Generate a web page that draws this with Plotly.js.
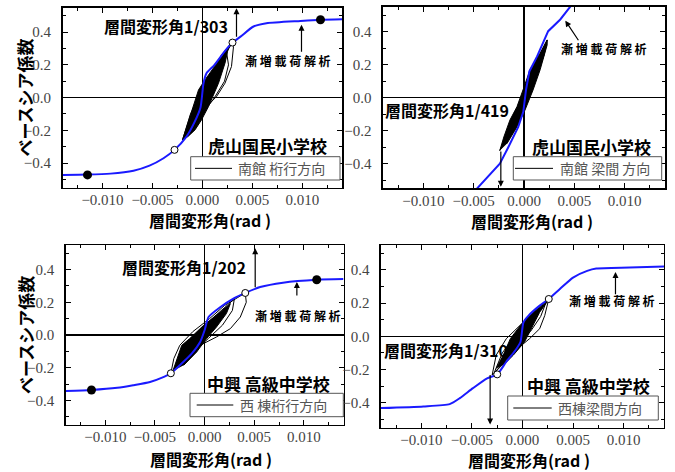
<!DOCTYPE html>
<html><head><meta charset="utf-8">
<script src="https://cdn.plot.ly/plotly-3.0.1.min.js"></script>
<style>html,body{margin:0;padding:0;background:#fff}#chart{width:675px;height:472px}</style>
</head><body><div id="chart"></div>
<script>
// ---------- Panel 1: 虎山国民小学校 南館 桁行方向 ----------
const p1BlueX = [-0.014, -0.0115, -0.0092, -0.0069, -0.0053, -0.0039, -0.0028, -0.0016, -0.0008, -0.0002, 0.0001, 0.0004, 0.0012, 0.0022, 0.0030, 0.0038, 0.0051, 0.0064, 0.0098, 0.0118, 0.014];
const p1BlueY = [-0.472, -0.470, -0.464, -0.446, -0.415, -0.370, -0.319, -0.238, -0.150, -0.060, 0.088, 0.149, 0.200, 0.281, 0.336, 0.372, 0.434, 0.454, 0.468, 0.475, 0.478];
const p1OpenX = [-0.0028, 0.0030];
const p1OpenY = [-0.319, 0.336];
const p1DotX = [-0.0115, 0.0118];
const p1DotY = [-0.472, 0.475];
const p1CoreX = [-0.0020, -0.0014, -0.0009, -0.0004, 0.00025, 0.0012, 0.0019, 0.0027, 0.0025, 0.00225, 0.0016, 0.0006, -0.0001, -0.00075, -0.0015];
const p1CoreY = [-0.258, -0.140, -0.055, 0.047, 0.108, 0.190, 0.260, 0.320, 0.280, 0.210, 0.088, -0.055, -0.136, -0.197, -0.240];
const p1LoopX = [
  [-0.0020, -0.0012, -0.0004, 0.0006, 0.0016, 0.0024, 0.0030, 0.0031, 0.0029, 0.00225, 0.0014, 0.0004, -0.0008, -0.0020],
  [-0.0018, -0.0008, 0.0004, 0.0016, 0.0024, 0.0026, 0.0022, 0.0012, 0.0000, -0.0012, -0.0018]
];
const p1LoopY = [
  [-0.258, -0.100, 0.000, 0.100, 0.200, 0.280, 0.336, 0.311, 0.190, 0.088, 0.006, -0.055, -0.160, -0.258],
  [-0.240, -0.060, 0.100, 0.210, 0.280, 0.200, 0.100, 0.000, -0.100, -0.200, -0.240]
];

// ---------- Panel 2: 虎山国民小学校 南館 梁間方向 ----------
const p2BlueX = [-0.0047, -0.0024, -0.00156, -0.00057, -0.00007, 0.0002, 0.00053, 0.0013, 0.0024, 0.0036, 0.0047];
const p2BlueY = [-0.553, -0.400, -0.300, -0.177, -0.086, 0.047, 0.159, 0.250, 0.403, 0.474, 0.560];
const p2CoreX = [-0.0024, -0.0020, -0.0014, -0.0007, -0.0001, 0.0006, 0.0016, 0.0023, 0.0023, 0.0016, 0.0009, 0.0001, -0.0007, -0.0017];
const p2CoreY = [-0.320, -0.238, -0.136, -0.055, 0.047, 0.169, 0.270, 0.350, 0.320, 0.169, 0.047, -0.075, -0.177, -0.279];
const p2LoopX = [
  [-0.0024, -0.0016, -0.0006, 0.0004, 0.0014, 0.0023, 0.0020, 0.0011, 0.0001, -0.0010, -0.0024]
];
const p2LoopY = [
  [-0.320, -0.200, -0.060, 0.100, 0.240, 0.350, 0.260, 0.100, -0.050, -0.200, -0.320]
];

// ---------- Panel 3: 中興高級中学校 西棟 桁行方向 ----------
const p3BlueX = [-0.014, -0.0114, -0.0088, -0.0072, -0.0055, -0.0041, -0.0034, -0.0025, -0.0013, -0.00045, 0.0000, 0.0004, 0.0016, 0.0029, 0.0041, 0.0056, 0.0079, 0.0113, 0.014];
const p3BlueY = [-0.342, -0.336, -0.323, -0.307, -0.287, -0.256, -0.234, -0.185, -0.114, -0.043, 0.029, 0.110, 0.171, 0.222, 0.257, 0.293, 0.320, 0.338, 0.342];
const p3OpenX = [-0.0034, 0.0041];
const p3OpenY = [-0.234, 0.257];
const p3DotX = [-0.0114, 0.0113];
const p3DotY = [-0.336, 0.338];
const p3CoreX = [-0.0032, -0.0023, -0.0015, -0.0001, 0.0012, 0.0026, 0.0022, 0.0012, 0.0002, -0.0008, -0.0021];
const p3CoreY = [-0.220, -0.063, -0.022, 0.059, 0.120, 0.192, 0.131, 0.049, -0.022, -0.104, -0.185];
const p3LoopX = [
  [-0.0034, -0.0031, -0.0025, -0.0012, 0.0005, 0.0020, 0.0041, 0.0042, 0.0036, 0.0026, 0.0012, -0.00045, -0.0020, -0.0034],
  [-0.0030, -0.0018, 0.0000, 0.0015, 0.0030, 0.0028, 0.0018, 0.0004, -0.0012, -0.0030]
];
const p3LoopY = [
  [-0.234, -0.144, -0.063, 0.020, 0.100, 0.180, 0.257, 0.200, 0.110, 0.039, -0.012, -0.063, -0.150, -0.234],
  [-0.200, -0.050, 0.060, 0.140, 0.220, 0.150, 0.060, -0.020, -0.110, -0.200]
];

// ---------- Panel 4: 中興高級中学校 西棟 梁間方向 ----------
const p4BlueX = [-0.014, -0.0098, -0.0072, -0.0062, -0.0049, -0.0035, -0.0025, -0.0016, -0.0007, -0.0002, 0.0001, 0.0006, 0.0017, 0.0026, 0.0037, 0.0050, 0.0064, 0.0073, 0.0106, 0.014];
const p4BlueY = [-0.432, -0.422, -0.408, -0.372, -0.312, -0.253, -0.229, -0.153, -0.084, -0.034, 0.085, 0.125, 0.185, 0.225, 0.285, 0.354, 0.394, 0.408, 0.414, 0.420];
const p4OpenX = [-0.0025, 0.0026];
const p4OpenY = [-0.229, 0.225];
const p4CoreX = [-0.0026, -0.0019, -0.0012, -0.0002, 0.0011, 0.0024, 0.0017, 0.0009, 0.0002, -0.0009, -0.0019];
const p4CoreY = [-0.193, -0.113, -0.014, 0.066, 0.145, 0.205, 0.145, 0.046, -0.034, -0.113, -0.173];
const p4LoopX = [
  [-0.0030, -0.0026, -0.0016, -0.0004, 0.0010, 0.0026, 0.0022, 0.0017, 0.0007, -0.0006, -0.0018, -0.0030],
  [-0.0028, -0.0020, -0.0008, 0.0006, 0.0018, 0.0024, 0.0018, 0.0008, -0.0004, -0.0016, -0.0028]
];
const p4LoopY = [
  [-0.233, -0.113, -0.014, 0.060, 0.140, 0.225, 0.125, 0.046, -0.014, -0.080, -0.160, -0.233],
  [-0.220, -0.100, 0.000, 0.080, 0.160, 0.215, 0.120, 0.030, -0.050, -0.140, -0.220]
];

// ---------- Labels ----------
const legendNames = ['南館 桁行方向', '南館 梁間 方向', '西 棟桁行方向', '西棟梁間方向'];
const schoolNames = ['虎山国民小学校', '虎山国民小学校', '中興 高級中学校', '中興 高級中学校'];
const driftLabels = ['層間変形角1/303', '層間変形角1/419', '層間変形角1/202', '層間変形角1/310'];
const pushoverLabel = '漸 増 載 荷 解 析';
const xTitle = '層間変形角(rad )';
const yTitle = 'ベースシア係数';

const BLUE = '#1a1aff';
const traces = [];
function addPanel(i, blueX, blueY, coreX, coreY, loopX, loopY, openX, openY, dotX, dotY, smooth) {
  const xa = i === 1 ? 'x' : 'x' + i;
  const ya = i === 1 ? 'y' : 'y' + i;
  traces.push({x: coreX, y: coreY, xaxis: xa, yaxis: ya, mode: 'lines', fill: 'toself',
    fillcolor: '#000', line: {color: '#000', width: 1}, showlegend: false, hoverinfo: 'skip'});
  loopX.forEach((lx, k) => {
    traces.push({x: lx, y: loopY[k], xaxis: xa, yaxis: ya, mode: 'lines', name: legendNames[i - 1],
      line: {color: '#000', width: 1}, showlegend: false});
  });
  traces.push({x: blueX, y: blueY, xaxis: xa, yaxis: ya, mode: 'lines', showlegend: false,
    line: smooth ? {color: BLUE, width: 2, shape: 'spline', smoothing: 0.6} : {color: BLUE, width: 2}});
  if (dotX) traces.push({x: dotX, y: dotY, xaxis: xa, yaxis: ya, mode: 'markers', showlegend: false,
    marker: {color: '#000', size: 9}});
  if (openX) traces.push({x: openX, y: openY, xaxis: xa, yaxis: ya, mode: 'markers', showlegend: false,
    marker: {color: '#fff', size: 7, line: {color: '#000', width: 1}}});
}
addPanel(1, p1BlueX, p1BlueY, p1CoreX, p1CoreY, p1LoopX, p1LoopY, p1OpenX, p1OpenY, p1DotX, p1DotY, true);
addPanel(2, p2BlueX, p2BlueY, p2CoreX, p2CoreY, p2LoopX, p2LoopY, null, null, null, null, false);
addPanel(3, p3BlueX, p3BlueY, p3CoreX, p3CoreY, p3LoopX, p3LoopY, p3OpenX, p3OpenY, p3DotX, p3DotY, true);
addPanel(4, p4BlueX, p4BlueY, p4CoreX, p4CoreY, p4LoopX, p4LoopY, p4OpenX, p4OpenY, null, null, true);

const tickFont = {family: "'Liberation Serif', 'Times New Roman', serif", size: 15, color: '#444'};
const cjk = "'Noto Sans CJK JP', sans-serif";
function xAxis(dom, anchor) {
  return {domain: dom, anchor: anchor, range: [-0.014, 0.014], dtick: 0.005, tick0: 0, tickformat: '.3f',
    ticks: 'inside', ticklen: 5, tickcolor: '#000', showline: true, linecolor: '#000', linewidth: 1.5,
    mirror: 'ticks', showgrid: false, zeroline: true, zerolinecolor: '#000', zerolinewidth: 1.5,
    minor: {dtick: 0.0025, ticks: 'inside', ticklen: 3, tickcolor: '#000', showgrid: false},
    tickfont: tickFont, fixedrange: true, ticklabelstandoff: -2};
}
function yAxis(dom, anchor) {
  return {domain: dom, anchor: anchor, range: [-0.55, 0.55], dtick: 0.2, tick0: 0, tickformat: '.1f',
    ticks: 'inside', ticklen: 5, tickcolor: '#000', showline: true, linecolor: '#000', linewidth: 1.5,
    mirror: 'ticks', showgrid: false, zeroline: true, zerolinecolor: '#000', zerolinewidth: 1.5,
    minor: {dtick: 0.1, ticks: 'inside', ticklen: 3, tickcolor: '#000', showgrid: false},
    tickfont: tickFont, fixedrange: true, ticklabelstandoff: 7};
}

const W = 675, H = 472;
const annotations = [];
const shapes = [];
function txt(xa, ya, x, y, text, size) {
  annotations.push({xref: xa, yref: ya, x: x, y: y, text: '<b>' + text + '</b>', showarrow: false,
    font: {family: cjk, size: size, color: '#000'}, xanchor: 'center', yanchor: 'middle'});
}
function arrow(xa, ya, x, y, ax, ay) {
  annotations.push({xref: xa, yref: ya, axref: xa, ayref: ya, x: x, y: y, ax: ax, ay: ay, text: '',
    showarrow: true, arrowhead: 2, arrowsize: 1, arrowwidth: 1.2, arrowcolor: '#000'});
}
// legend box drawn in pixel positions of the figure (paper coords)
function legendBox(x0, y0, x1, y1, lx0, lx1, tx, label) {
  const ym = (y0 + y1) / 2;
  shapes.push({type: 'rect', xref: 'paper', yref: 'paper', x0: x0 / W, x1: x1 / W, y0: 1 - y0 / H, y1: 1 - y1 / H,
    line: {color: '#555', width: 1}, fillcolor: '#fff', layer: 'above'});
  shapes.push({type: 'line', xref: 'paper', yref: 'paper', x0: lx0 / W, x1: lx1 / W, y0: 1 - ym / H, y1: 1 - ym / H,
    line: {color: '#000', width: 1}, layer: 'above'});
  annotations.push({xref: 'paper', yref: 'paper', x: tx / W, y: 1 - ym / H, text: label, showarrow: false,
    xanchor: 'left', yanchor: 'middle', font: {family: cjk, size: 14, color: '#555'}});
}
function xTitleAt(xa, x, py) {
  annotations.push({xref: xa, yref: 'paper', x: x, y: 1 - py / H, text: '<b>' + xTitle + '</b>', showarrow: false,
    xanchor: 'center', yanchor: 'middle', borderpad: 0, font: {family: cjk, size: 16, color: '#000'}});
}
function yTitleAt(ya, px) {
  annotations.push({xref: 'paper', yref: ya, x: px / W, y: 0, text: '<b>' + yTitle + '</b>', showarrow: false,
    textangle: -90, xanchor: 'center', yanchor: 'middle', font: {family: cjk, size: 17, color: '#000'}});
}

// Panel 1
txt('x', 'y', -0.00366, 0.44, driftLabels[0], 16);
txt('x', 'y', 0.00855, 0.224, pushoverLabel, 12);
txt('x', 'y', 0.0065, -0.293, schoolNames[0], 17);
arrow('x', 'y', 0.0034, 0.545, 0.0034, 0.363);
arrow('x', 'y', 0.0099, 0.444, 0.0099, 0.271);
legendBox(190.7, 156.7, 340, 180, 195, 232, 236, legendNames[0]);
xTitleAt('x', 0.00075, 220.5);
yTitleAt('y', 25);
// Panel 2
txt('x2', 'y2', -0.0076, -0.075, driftLabels[1], 16);
txt('x2', 'y2', 0.0079, 0.30, pushoverLabel, 12);
txt('x2', 'y2', 0.0067, -0.297, schoolNames[1], 17);
arrow('x2', 'y2', -0.0023, -0.54, -0.0023, -0.317);
arrow('x2', 'y2', 0.0041, 0.467, 0.0055, 0.339);
legendBox(513.3, 156.7, 661.7, 180, 515, 553, 558, legendNames[1]);
xTitleAt('x2', 0.00075, 221);
// Panel 3
txt('x3', 'y3', -0.00204, 0.415, driftLabels[2], 16);
txt('x3', 'y3', 0.0094, 0.12, pushoverLabel, 12);
txt('x3', 'y3', 0.0064, -0.297, schoolNames[2], 17);
arrow('x3', 'y3', 0.0051, 0.531, 0.0051, 0.283);
arrow('x3', 'y3', 0.0093, 0.324, 0.0093, 0.232);
legendBox(190, 393.3, 343.3, 416.7, 196.7, 233.3, 238, legendNames[2]);
xTitleAt('x3', 0.00065, 458.5);
yTitleAt('y3', 25);
// Panel 4
txt('x4', 'y4', -0.00755, -0.084, driftLabels[3], 16);
txt('x4', 'y4', 0.00883, 0.215, pushoverLabel, 12);
txt('x4', 'y4', 0.0065, -0.293, schoolNames[3], 17);
arrow('x4', 'y4', -0.0032, -0.531, -0.0032, -0.223);
arrow('x4', 'y4', 0.0092, 0.388, 0.0092, 0.245);
legendBox(507.7, 396, 658.3, 420, 513.3, 551.7, 556, legendNames[3]);
xTitleAt('x4', 0.0006, 460);

const layout = {
  width: W, height: H, margin: {l: 0, r: 0, t: 0, b: 0}, paper_bgcolor: '#fff', plot_bgcolor: '#fff',
  showlegend: false,
  xaxis: xAxis([0.0926, 0.5074], 'y'), yaxis: yAxis([0.6023, 0.9841], 'x'),
  xaxis2: xAxis([0.5674, 0.9852], 'y2'), yaxis2: yAxis([0.6008, 0.9853], 'x2'),
  xaxis3: xAxis([0.0973, 0.5089], 'y3'), yaxis3: yAxis([0.0996, 0.4809], 'x3'),
  xaxis4: xAxis([0.5644, 0.9837], 'y4'), yaxis4: yAxis([0.0939, 0.4809], 'x4'),
  annotations: annotations, shapes: shapes
};
Plotly.newPlot('chart', traces, layout, {staticPlot: true, displayModeBar: false});
</script></body></html>
